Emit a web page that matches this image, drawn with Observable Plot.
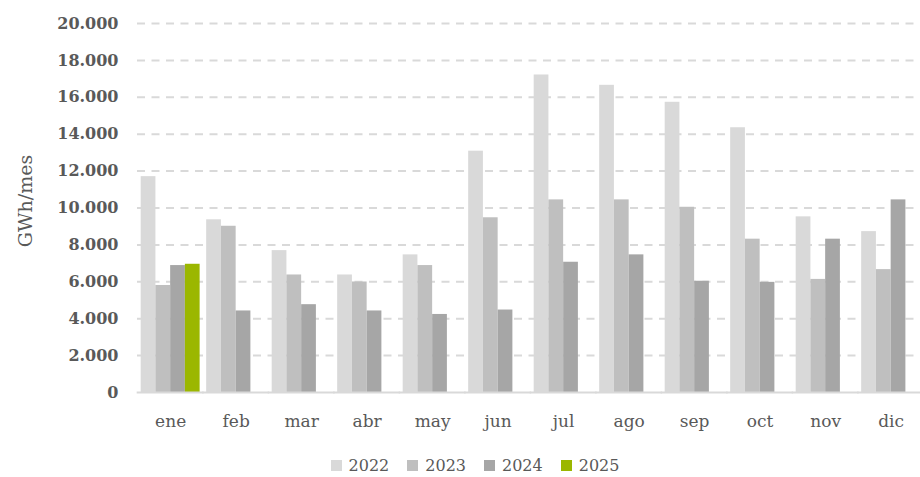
<!DOCTYPE html>
<html>
<head>
<meta charset="utf-8">
<script src="https://cdn.jsdelivr.net/npm/d3@7"></script>
<script src="https://cdn.jsdelivr.net/npm/@observablehq/plot@0.6"></script>
<style>
  html, body { margin: 0; padding: 0; background: #ffffff; }
  body { width: 920px; height: 477px; overflow: hidden; font-family: "DejaVu Serif", serif; }
  #chart { position: relative; width: 920px; height: 440px; }
  #chart svg { position: absolute; left: 0; top: 0; }
  #legend { display: flex; justify-content: center; align-items: center; margin-top: 14px; height: 22px; padding-left: 30px; }
  .item { display: flex; align-items: center; margin: 0 9px; color: #595959; font-size: 16px; }
  .sw { width: 11px; height: 11px; margin-right: 7px; display: inline-block; }
</style>
</head>
<body>
<div id="chart"></div>
<div id="legend"></div>
<script>
const months = ["ene", "feb", "mar", "abr", "may", "jun", "jul", "ago", "sep", "oct", "nov", "dic"];
const years = ["2022", "2023", "2024", "2025"];
const v2022 = [11700, 9360, 7690, 6370, 7460, 13080, 17210, 16650, 15730, 14350, 9520, 8720];
const v2023 = [5800, 9010, 6370, 5990, 6880, 9470, 10440, 10440, 10040, 8310, 6130, 6660];
const v2024 = [6880, 4420, 4760, 4420, 4230, 4470, 7060, 7460, 6030, 5970, 8310, 10440];
const v2025 = [6950];
const colors = ["#d9d9d9", "#bfbfbf", "#a6a6a6", "#9bb700"];
const yTicks = [0, 2000, 4000, 6000, 8000, 10000, 12000, 14000, 16000, 18000, 20000];
const yLabel = "GWh/mes";

const series = [v2022, v2023, v2024, v2025];
const rows = [];
series.forEach((vals, k) => {
  vals.forEach((v, i) => rows.push({ month: months[i], year: years[k], value: v }));
});

const locale = d3.formatLocale({ decimal: ",", thousands: ".", grouping: [3], currency: ["", " €"] });
const fmt = locale.format(",d");

const common = {
  width: 920,
  height: 440,
  marginLeft: 137,
  marginRight: 0,
  marginTop: 23,
  marginBottom: 48,
  style: { fontFamily: "DejaVu Serif, serif", fontSize: "17px", color: "#595959", background: "transparent" }
};

// background layer: dashed grid, y axis, y label
const back = Plot.plot({
  ...common,
  y: { domain: [0, 20000], label: null },
  marks: [
    Plot.ruleY(yTicks.filter(d => d > 0), { stroke: "#d9d9d9", strokeWidth: 2, strokeDasharray: "8,6.5" }),
    Plot.axisY({ ticks: yTicks, tickFormat: fmt, tickSize: 0, tickPadding: 19, fontSize: 16, fontWeight: "bold", label: null, fill: "#595959" }),
    Plot.text([yLabel], { frameAnchor: "left", textAnchor: "middle", rotate: -90, dx: -112, dy: -7, fontSize: 19, fill: "#595959" })
  ]
});

// foreground layer: clustered bars
const front = Plot.plot({
  ...common,
  fx: { domain: months, paddingInner: 0.1, paddingOuter: 0.05, round: false, range: [137.4, 923.4], label: null },
  x: { domain: years, padding: 0, round: false, axis: null },
  y: { domain: [0, 20000], axis: null },
  color: { domain: years, range: colors },
  marks: [
    Plot.barY(rows, { fx: "month", x: "year", y: "value", fill: "year" }),
    Plot.ruleY([0], { stroke: "#d9d9d9", strokeWidth: 2, insetLeft: -4, insetRight: -4 }),
    Plot.axisFx({ anchor: "bottom", tickSize: 0, tickPadding: 22, fontSize: 17, label: null, fill: "#595959" })
  ]
});

const host = document.getElementById("chart");
host.appendChild(back);
host.appendChild(front);

const legend = document.getElementById("legend");
years.forEach((y, k) => {
  const it = document.createElement("div");
  it.className = "item";
  const sw = document.createElement("span");
  sw.className = "sw";
  sw.style.background = colors[k];
  it.appendChild(sw);
  it.appendChild(document.createTextNode(y));
  legend.appendChild(it);
});
</script>
</body>
</html>
